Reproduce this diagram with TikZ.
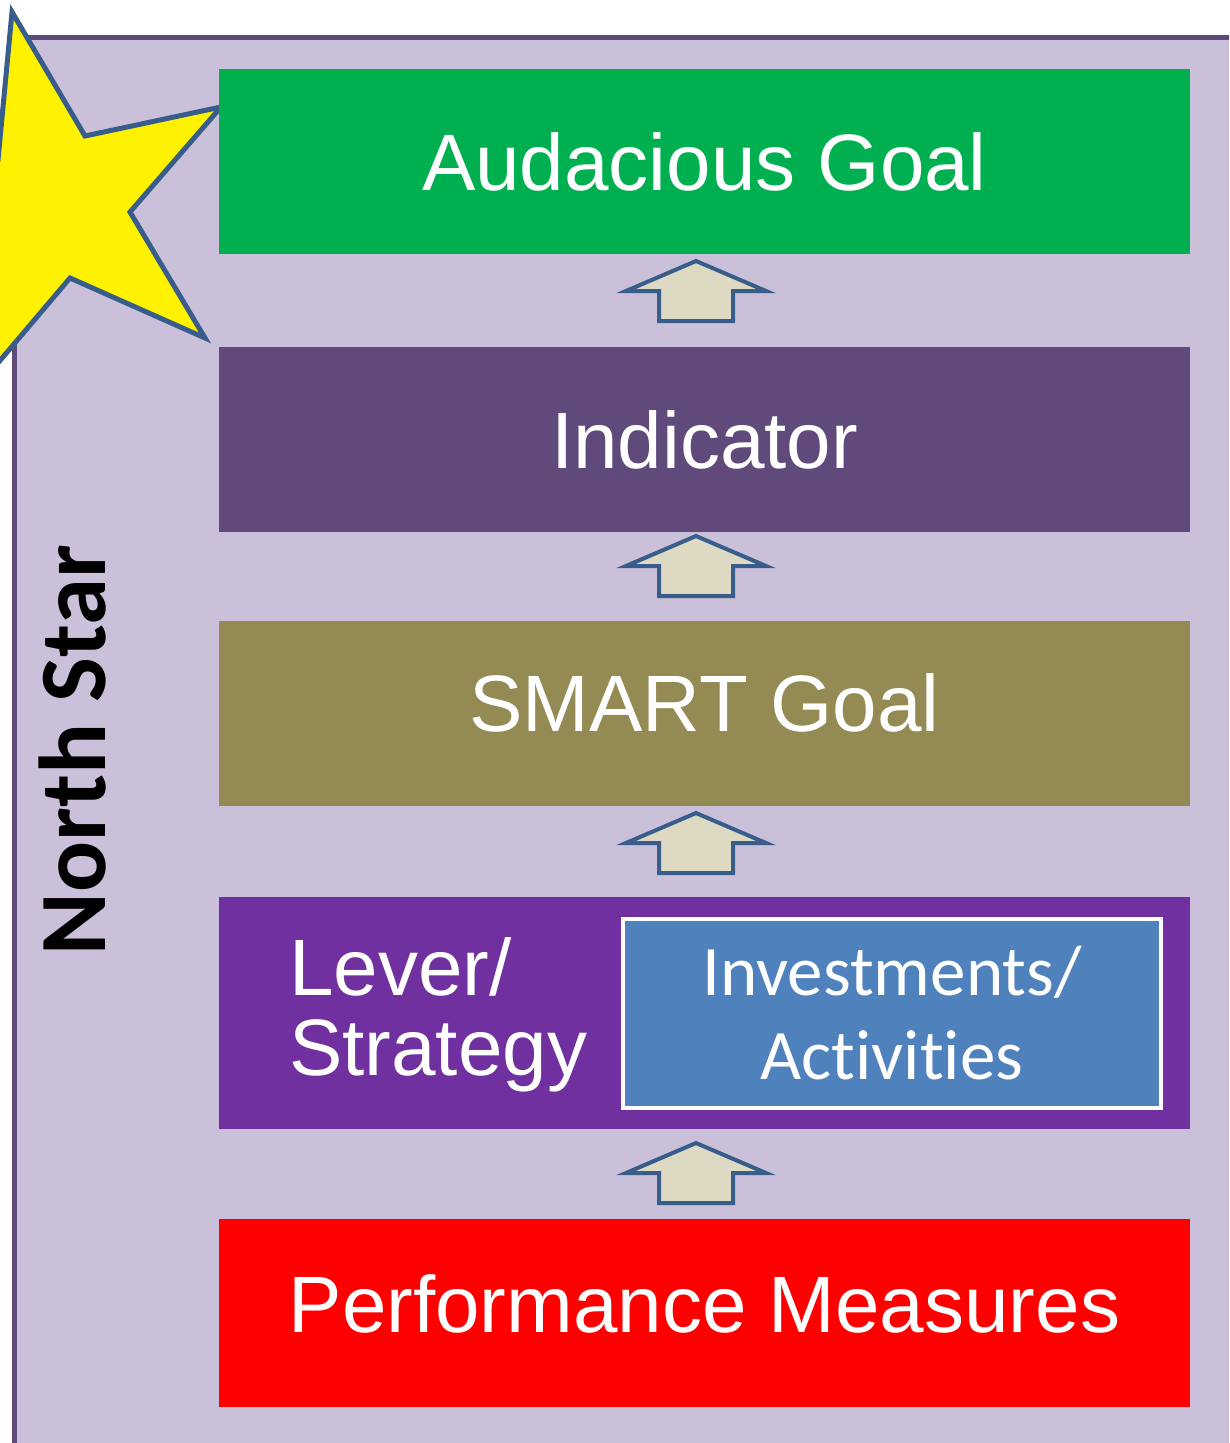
\documentclass[tikz,border=0pt]{standalone}
\usepackage{fontspec}
\setmainfont{Liberation Sans}
\newfontfamily\calib[Ligatures=NoCommon]{Carlito}
\definecolor{panelfill}{HTML}{CBC0DA}
\definecolor{panelline}{HTML}{5F4B7B}
\definecolor{goalgreen}{HTML}{00B050}
\definecolor{indpurple}{HTML}{604A7B}
\definecolor{smartolive}{HTML}{948A54}
\definecolor{leverpurple}{HTML}{7030A0}
\definecolor{perfred}{HTML}{FF0000}
\definecolor{invblue}{HTML}{4F81BD}
\definecolor{arrowfill}{HTML}{DDD9C3}
\definecolor{arrowline}{HTML}{385D8A}
\begin{document}
\begin{tikzpicture}[x=1pt,y=-1pt,
  levelbox/.style={minimum width=971pt, inner sep=0pt, text=white, text height=58pt,
    font=\fontsize{80}{80}\selectfont},
  upblock/.pic={\draw[line width=4pt, draw=arrowline, fill=arrowfill, line join=miter]
    (0,0) -- (70,30) -- (37,30) -- (37,60) -- (-37,60) -- (-37,30) -- (-70,30) -- cycle;}
]
\useasboundingbox (0,0) rectangle (1229,1443);
\clip (0,0) rectangle (1229,1443);
% panel
\draw[line width=5pt, draw=panelline, fill=panelfill] (14.5,37.5) rectangle (1260,1480);
% star
\draw[line width=5pt, draw=arrowline, fill=yellow, line join=miter]
  (12,12) -- (85,136) -- (221,107) -- (130,212) -- (205,338) -- (70,278)
  -- (-25,390) -- (-17,249) -- (-150,191) -- (-2,160) -- cycle;
% level boxes
\node[levelbox, fill=goalgreen, minimum height=185pt, text depth=1pt] (goal) at (704.5,161.5) {Audacious Goal};
\node[levelbox, fill=indpurple, minimum height=185pt, text depth=1pt] (ind) at (704.5,439.5) {Indicator};
\node[levelbox, fill=smartolive, minimum height=185pt, text depth=23pt] (smart) at (704.5,713.5) {SMART Goal};
\node[levelbox, fill=leverpurple, minimum height=232pt] (lever) at (704.5,1013) {};
\node[levelbox, fill=perfred, minimum height=188pt, text depth=20pt] (perf) at (704.5,1313) {Performance Measures};
% lever text
\node[anchor=west, align=left, inner sep=0pt, text=white,
  font=\fontsize{80}{80}\selectfont] (levertext) at (289,1014.5) {Lever/\\Strategy};
% inner box
\node[draw=white, line width=4pt, fill=invblue, minimum width=538pt, minimum height=189pt,
  inner sep=0pt] (inv) at (892,1013.5) {};
\node[align=center, inner sep=0pt, text=white,
  font=\calib\fontsize{71}{84}\selectfont] (invtext) at (892,1013) {Investments/\\Activities};
% north star label
\node[rotate=90, anchor=base, inner sep=0pt, font=\calib\bfseries\fontsize{95}{95}\selectfont]
  (ns) at (105,750) {North Star};
% block arrows
\pic at (696,261) {upblock};
\pic at (696,536) {upblock};
\pic at (696,813) {upblock};
\pic at (696,1143) {upblock};
\end{tikzpicture}
\end{document}
